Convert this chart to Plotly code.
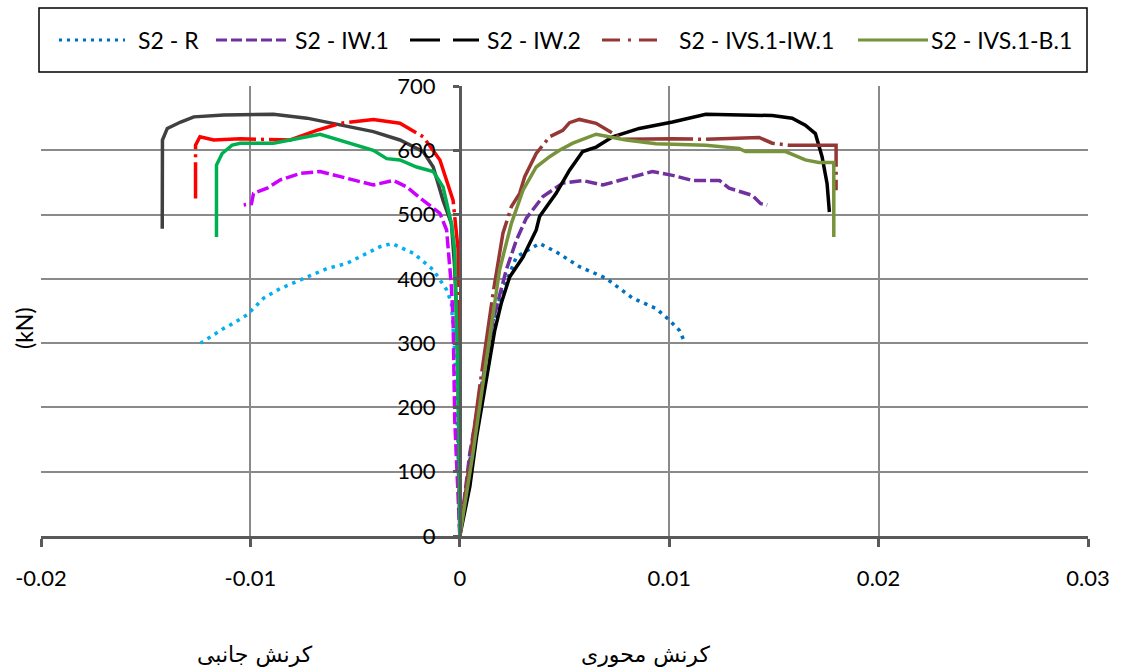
import plotly.graph_objects as go

# ---------------- data ----------------
series_names = ["S2 - R", "S2 - IW.1", "S2 - IW.2", "S2 - IVS.1-IW.1", "S2 - IVS.1-B.1"]

# lateral strain (negative side) vs load (kN)
lat_R_strain = [0, -0.0001, -0.00024, -0.0004, -0.00063, -0.00127, -0.00222, -0.00325, -0.00381,
                -0.0046, -0.0054, -0.00635, -0.00746, -0.00857, -0.00937, -0.01016, -0.0108,
                -0.01127, -0.01175, -0.01238]
lat_R_load = [0, 150, 284, 362, 383, 414, 440, 455, 450, 437, 424, 416, 401, 385, 370, 344, 331,
              323, 313, 300]

lat_IW1_strain = [0, -0.0001, -0.00024, -0.00032, -0.0004, -0.00063, -0.00095, -0.00175, -0.00254,
                  -0.00317, -0.00413, -0.0057, -0.00667, -0.00762, -0.00857, -0.0092, -0.00985,
                  -0.00995, -0.01032]
lat_IW1_load = [0, 80, 180, 336, 388, 476, 502, 522, 543, 553, 546, 559, 567, 564, 554, 541, 533,
                517, 515]

lat_IW2_strain = [0, -0.00005, -0.0001, -0.00025, -0.0004, -0.0008, -0.00127, -0.00175, -0.00286,
                  -0.00413, -0.0057, -0.0073, -0.0089, -0.01127, -0.0127, -0.01333, -0.01397,
                  -0.0142, -0.01421]
lat_IW2_load = [0, 150, 300, 420, 486, 522, 574, 598, 616, 629, 640, 650, 656, 655, 652, 644, 634,
                616, 478]

lat_IVS_strain = [0, -0.00002, -0.00005, -0.00008, -0.00032, -0.00095, -0.00175, -0.00286, -0.00413,
                  -0.0057, -0.00683, -0.0081, -0.0095, -0.01048, -0.01175, -0.01241, -0.01262,
                  -0.01262]
lat_IVS_load = [0, 200, 350, 445, 522, 585, 621, 642, 648, 642, 631, 616, 617, 618, 616, 621, 608,
                525]

lat_B1_strain = [0, -0.00005, -0.00016, -0.00024, -0.0004, -0.0008, -0.00127, -0.00206, -0.00286,
                 -0.00349, -0.00413, -0.0057, -0.00667, -0.0073, -0.0089, -0.01048, -0.01087,
                 -0.01135, -0.01162, -0.01162]
lat_B1_load = [0, 180, 336, 445, 486, 543, 567, 574, 585, 587, 600, 616, 625, 621, 611, 611, 608,
               595, 577, 465]

# axial strain (positive side) vs load (kN)
ax_R_strain = [0, 0.0005, 0.0012, 0.0019, 0.0027, 0.00381, 0.0046, 0.00571, 0.00698, 0.00825,
               0.00937, 0.01, 0.01048, 0.01076]
ax_R_load = [0, 120, 260, 370, 434, 455, 442, 419, 401, 370, 354, 336, 320, 300]

ax_IW1_strain = [0, 0.00048, 0.00095, 0.00159, 0.00222, 0.0027, 0.00317, 0.00397, 0.00492, 0.00587,
                 0.00683, 0.00778, 0.0092, 0.01016, 0.01111, 0.0124, 0.01286, 0.01397, 0.01437,
                 0.01468]
ax_IW1_load = [0, 129, 217, 336, 414, 460, 494, 528, 549, 553, 546, 554, 567, 561, 553, 553, 541,
               530, 517, 515]

ax_IW2_strain = [0, 0.00048, 0.0008, 0.00127, 0.00167, 0.00198, 0.00238, 0.00302, 0.00365, 0.00381,
                 0.0046, 0.00524, 0.00587, 0.00651, 0.0073, 0.00857, 0.01016, 0.01175, 0.01333,
                 0.01492, 0.01587, 0.0165, 0.01698, 0.0173, 0.01754, 0.01765]
ax_IW2_load = [0, 77, 154, 243, 320, 362, 403, 434, 476, 497, 533, 569, 598, 605, 621, 634, 644,
               656, 655, 654, 650, 639, 626, 590, 548, 504]

ax_IVS_strain = [0, 0.00095, 0.0016, 0.00206, 0.00246, 0.00286, 0.0031, 0.00365, 0.00429, 0.00492,
                 0.00524, 0.00571, 0.00651, 0.00714, 0.00778, 0.01016, 0.01175, 0.01429, 0.01492,
                 0.01571, 0.0173, 0.01797, 0.01797]
ax_IVS_load = [0, 232, 380, 471, 512, 533, 559, 595, 621, 631, 643, 648, 642, 629, 617, 618, 617,
               620, 611, 608, 608, 608, 538]

ax_B1_strain = [0, 0.00063, 0.00127, 0.0019, 0.00246, 0.00302, 0.00365, 0.00429, 0.00476, 0.0054,
                0.00651, 0.00714, 0.00794, 0.00937, 0.01175, 0.01333, 0.01365, 0.01556, 0.0165,
                0.01714, 0.01786, 0.01786]
ax_B1_load = [0, 129, 274, 414, 486, 538, 574, 590, 600, 611, 625, 621, 616, 610, 608, 603, 598,
              598, 585, 581, 581, 465]

x_tick_vals = [-0.02, -0.01, 0, 0.01, 0.02, 0.03]
x_tick_text = ["-0.02", "-0.01", "0", "0.01", "0.02", "0.03"]
y_tick_vals = [0, 100, 200, 300, 400, 500, 600, 700]
y_tick_text = ["0", "100", "200", "300", "400", "500", "600", "700"]
lateral_label = "کرنش جانبی"
axial_label = "کرنش محوری"
y_title = "(kN)"

# ---------------- styles ----------------
W, H = 1122, 672
ML, MR, MT, MB = 41, 34, 86, 136
PW, PH = W - ML - MR, H - MT - MB


def px(xp):
    return (xp - ML) / PW


def py(yp):
    return (H - MB - yp) / PH


lat_styles = [
    dict(color="#00B0F0", width=3.5, dash="3.5px,5px"),
    dict(color="#CC00FF", width=3.5, dash="12px,4px"),
    dict(color="#404040", width=3.5, dash="solid"),
    dict(color="#FF0000", width=3.5, dash="70px,5px,3px,5px"),
    dict(color="#00B050", width=3.5, dash="solid"),
]
ax_styles = [
    dict(color="#0070C0", width=3.5, dash="3.5px,5px"),
    dict(color="#7030A0", width=3.5, dash="12px,4px"),
    dict(color="#000000", width=3.5, dash="solid"),
    dict(color="#953735", width=3.5, dash="70px,5px,3px,5px"),
    dict(color="#77933C", width=3.5, dash="solid"),
]
legend_dash = ["3px,5px", "11px,4px", "30px,13px", "18px,8px,3px,8px", "solid"]

lat_data = [(lat_R_strain, lat_R_load), (lat_IW1_strain, lat_IW1_load), (lat_IW2_strain, lat_IW2_load),
            (lat_IVS_strain, lat_IVS_load), (lat_B1_strain, lat_B1_load)]
ax_data = [(ax_R_strain, ax_R_load), (ax_IW1_strain, ax_IW1_load), (ax_IW2_strain, ax_IW2_load),
           (ax_IVS_strain, ax_IVS_load), (ax_B1_strain, ax_B1_load)]

fig = go.Figure()
for i, name in enumerate(series_names):
    fig.add_trace(go.Scatter(x=ax_data[i][0], y=ax_data[i][1], mode="lines", name=name,
                             line=ax_styles[i], showlegend=False))
    fig.add_trace(go.Scatter(x=lat_data[i][0], y=lat_data[i][1], mode="lines", name=name + " (lateral)",
                             line=lat_styles[i], showlegend=False))

font_main = "Lato, 'Open Sans', sans-serif"
grid_col = "#8a8a8a"
axis_col = "#595959"

fig.update_layout(
    width=W, height=H, autosize=False,
    margin=dict(l=ML, r=MR, t=MT, b=MB, pad=0),
    paper_bgcolor="white", plot_bgcolor="white",
    font=dict(family=font_main, size=22, color="black"),
    xaxis=dict(range=[-0.02, 0.03], tickvals=x_tick_vals, ticktext=x_tick_text,
               showgrid=True, gridcolor=grid_col, gridwidth=2, zeroline=False,
               showline=True, linecolor=axis_col, linewidth=3,
               ticks="outside", ticklen=8, tickwidth=3, tickcolor=axis_col,
               ticklabelstandoff=13, tickfont=dict(size=22)),
    yaxis=dict(range=[0, 700], tickvals=y_tick_vals, ticktext=y_tick_text,
               anchor="free", position=(460 - ML) / PW,
               showgrid=True, gridcolor=grid_col, gridwidth=2, zeroline=False,
               showline=True, linecolor=axis_col, linewidth=3,
               ticks="outside", ticklen=6, tickwidth=3, tickcolor=axis_col,
               ticklabelstandoff=13, tickfont=dict(size=22)),
)

# legend box and entries
shapes = [dict(type="rect", xref="paper", yref="paper", x0=px(39), x1=px(1087), y0=py(72), y1=py(8),
               line=dict(color="black", width=1.5), fillcolor="white", layer="above")]
sym_x0 = [59, 216, 410, 602, 858]
sym_x1 = [125, 286, 479, 659, 928]
txt_x = [136, 293, 485, 677, 929]
annotations = []
for i, name in enumerate(series_names):
    shapes.append(dict(type="line", xref="paper", yref="paper", x0=px(sym_x0[i]), x1=px(sym_x1[i]),
                       y0=py(40), y1=py(40),
                       line=dict(color=ax_styles[i]["color"], width=3, dash=legend_dash[i])))
    annotations.append(dict(text=name, xref="paper", yref="paper", x=px(txt_x[i]), y=py(40),
                            xanchor="left", yanchor="middle", showarrow=False,
                            font=dict(size=23, family=font_main)))

annotations.append(dict(text=y_title, xref="paper", yref="paper", x=px(24), y=py(328), textangle=-90,
                        showarrow=False, xanchor="center", yanchor="middle", font=dict(size=23)))
annotations.append(dict(text=lateral_label, xref="paper", yref="paper", x=px(255), y=py(655),
                        showarrow=False, xanchor="center", yanchor="middle",
                        font=dict(size=22, family="'DejaVu Serif', 'DejaVu Sans'")))
annotations.append(dict(text=axial_label, xref="paper", yref="paper", x=px(645), y=py(655),
                        showarrow=False, xanchor="center", yanchor="middle",
                        font=dict(size=22, family="'DejaVu Serif', 'DejaVu Sans'")))

fig.update_layout(shapes=shapes, annotations=annotations)

fig.write_html("out.html", config={"displayModeBar": False},
               post_script="document.body.style.margin='0';")
